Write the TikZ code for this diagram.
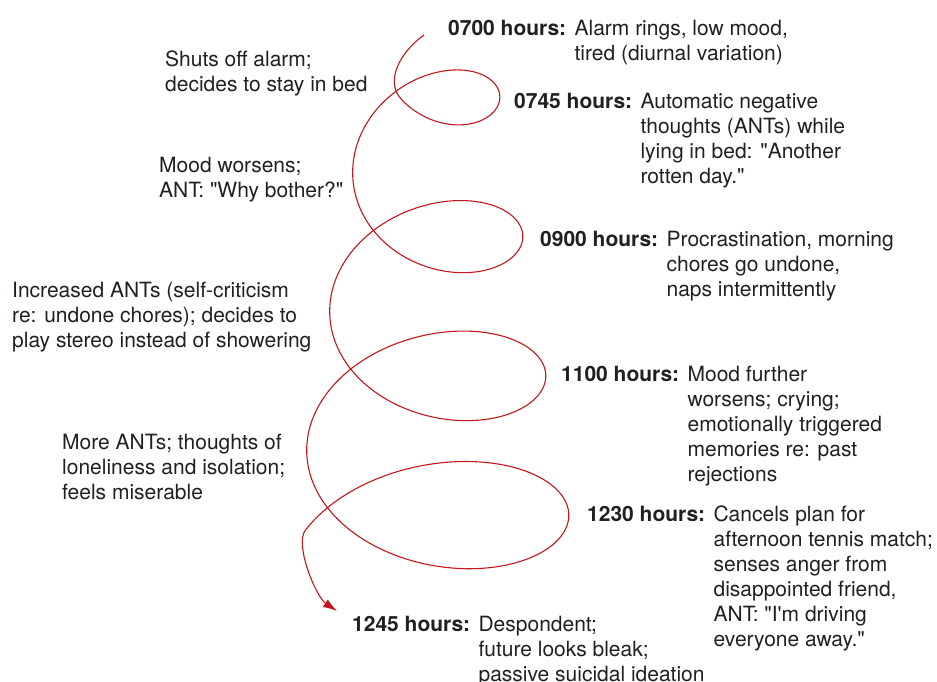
\documentclass[tikz,border=0pt]{standalone}
\usepackage{fontspec}
\setmainfont{TeX Gyre Heros}[Ligatures=TeXOff]
\usetikzlibrary{arrows.meta}
\definecolor{inkgray}{HTML}{231F20}
\definecolor{spiralred}{HTML}{C4161C}

\begin{document}
\begin{tikzpicture}[x=1pt, y=-1pt,
  every node/.style={font=\fontsize{21}{25}\selectfont, text=inkgray, inner sep=0pt},
  hour/.style={anchor=base west, font=\fontsize{21}{25}\selectfont\bfseries},
  note/.style={anchor=north west, align=left},
  spiral/.style={draw=spiralred, line width=1.1pt, -{Latex[length=14pt,width=9pt]}}
]
  \useasboundingbox (0,0) rectangle (937,681);

  % time points, right side
  \node[hour] (t0700) at (448,35) {0700 hours:};
  \node[note] (d0700) at ([xshift=8pt]t0700.north east)
    {Alarm rings, low mood,\\tired (diurnal variation)};
  \node[hour] (t0745) at (514,108) {0745 hours:};
  \node[note] (d0745) at ([xshift=8pt]t0745.north east)
    {Automatic negative\\thoughts (ANTs) while\\lying in bed: "Another\\rotten day."};
  \node[hour] (t0900) at (540,246) {0900 hours:};
  \node[note] (d0900) at ([xshift=8pt]t0900.north east)
    {Procrastination, morning\\chores go undone,\\naps intermittently};
  \node[hour] (t1100) at (561,381) {1100 hours:};
  \node[note] (d1100) at ([xshift=8pt]t1100.north east)
    {Mood further\\worsens; crying;\\emotionally triggered\\memories re: past\\rejections};
  \node[hour] (t1230) at (587,521) {1230 hours:};
  \node[note] (d1230) at ([xshift=8pt]t1230.north east)
    {Cancels plan for\\afternoon tennis match;\\senses anger from\\disappointed friend,\\ANT: "I'm driving\\everyone away."};
  \node[hour] (t1245) at (352,631) {1245 hours:};
  \node[note] (d1245) at ([xshift=8pt]t1245.north east)
    {Despondent;\\future looks bleak;\\passive suicidal ideation};

  % what happens in between, left side
  \node[note] (n1) at (165,51) {Shuts off alarm;\\decides to stay in bed};
  \node[note] (n2) at (159,157) {Mood worsens;\\ANT: "Why bother?"};
  \node[note] (n3) at (12,282)
    {Increased ANTs (self-criticism\\re: undone chores); decides to\\play stereo instead of showering};
  \node[note] (n4) at (62,434)
    {More ANTs; thoughts of\\loneliness and isolation;\\feels miserable};

  % the downward spiral
  \coordinate (start) at (424,35);
  \coordinate (tip) at (337,611);
  \draw[spiral] (start) .. controls (400,52) and (384,82) .. (402,100)
    -- plot[domain=-120:1230, samples=400, smooth, variable=\t]
       ({432+(67.75+0.0639*\t)*cos(\t)}, {99+0.387*\t-(58+0.0255*\t)*sin(\t)})
    .. controls (294.4,544.6) and (316,597) .. (tip);
\end{tikzpicture}
\end{document}
